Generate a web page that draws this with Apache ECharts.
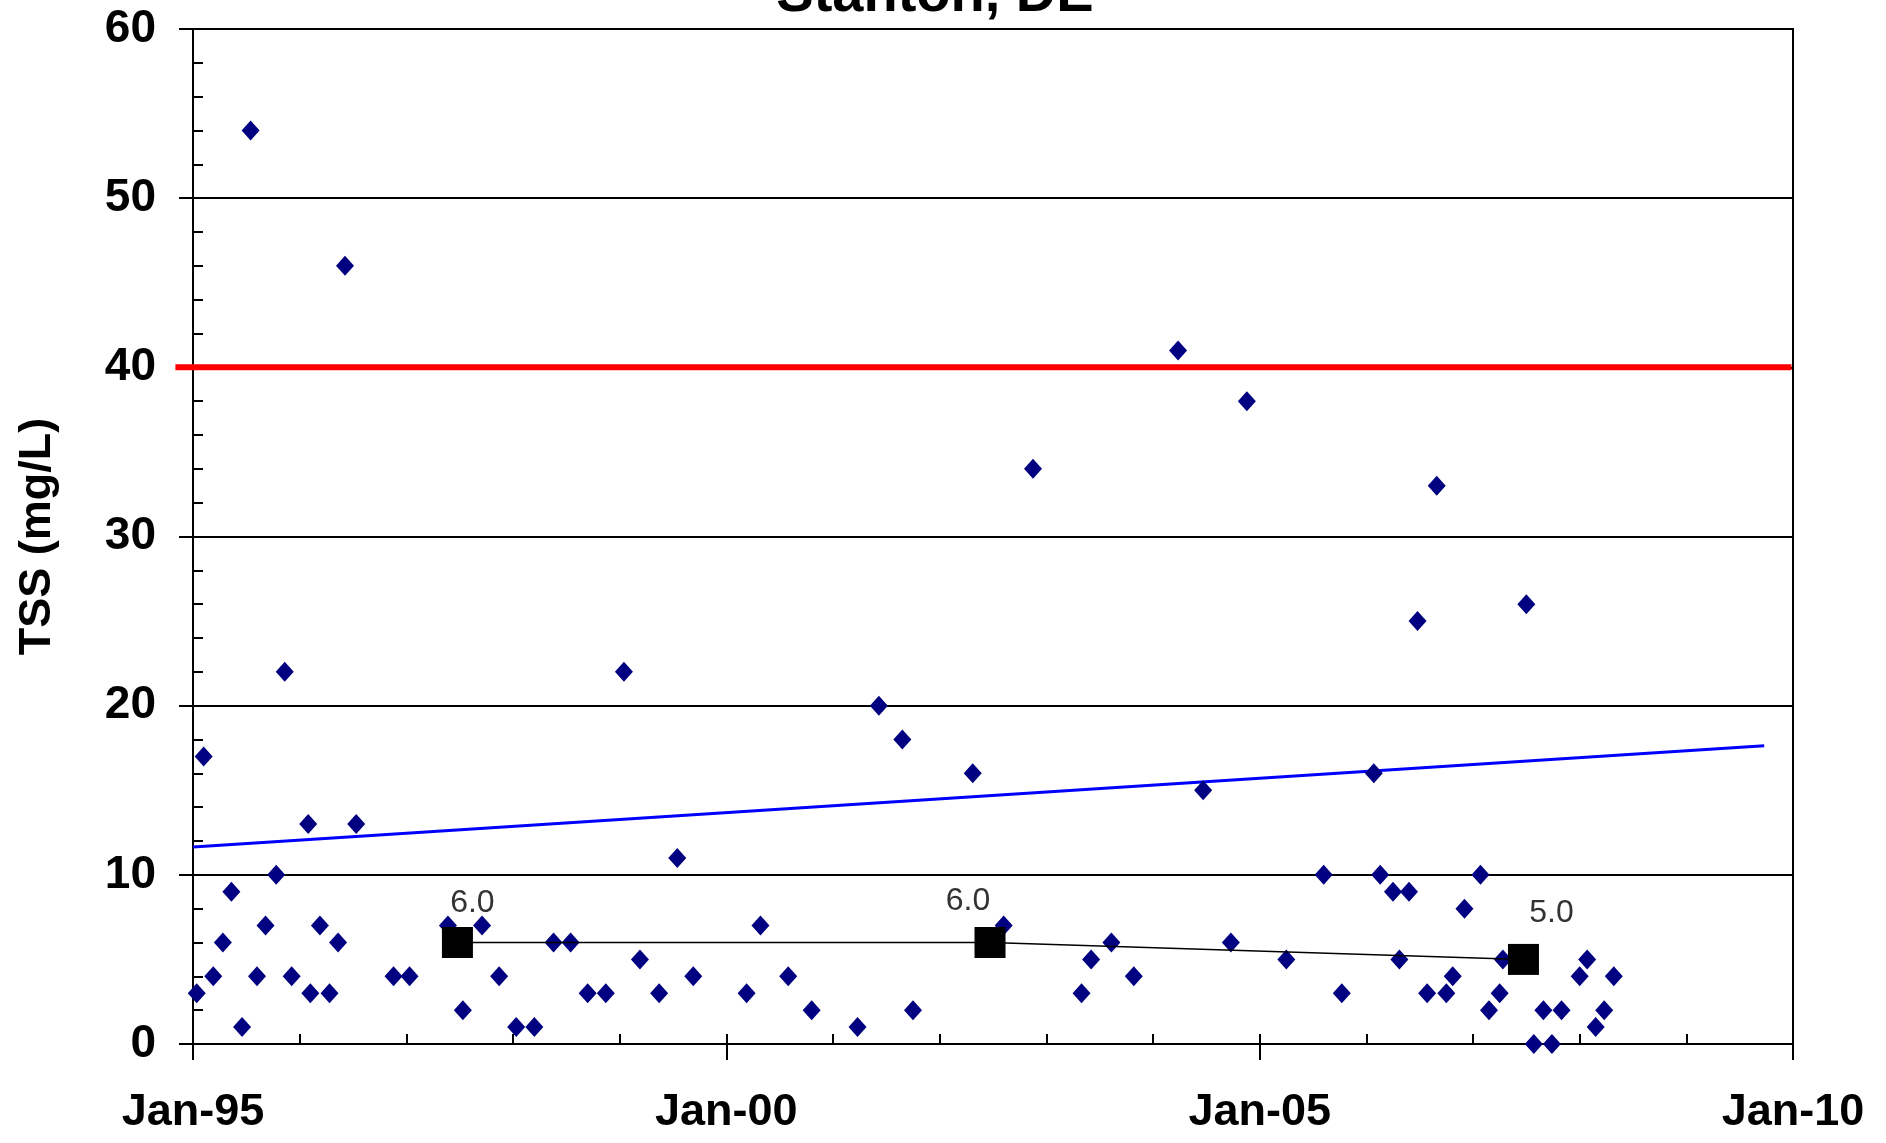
<!DOCTYPE html>
<html>
<head>
<meta charset="utf-8">
<script src="https://cdn.jsdelivr.net/npm/echarts@6/dist/echarts.min.js"></script>
<style>
  html, body { margin: 0; padding: 0; background: #fff; }
  #chart { width: 1886px; height: 1143px; }
</style>
</head>
<body>
<div id="chart"></div>
<script>
// ---- data (x = decimal year) ----
const sampleYears = [
  1995.035, 1995.10, 1995.19, 1995.28, 1995.36, 1995.46, 1995.54, 1995.60, 1995.68, 1995.78,
  1995.86, 1995.925, 1996.08, 1996.10, 1996.19, 1996.28, 1996.36, 1996.425, 1996.53, 1996.88,
  1997.03, 1997.39, 1997.53, 1997.71, 1997.87, 1998.03, 1998.20, 1998.38, 1998.54, 1998.70,
  1998.87, 1999.04, 1999.19, 1999.37, 1999.54, 1999.69, 2000.19, 2000.32, 2000.58, 2000.80,
  2001.23, 2001.43, 2001.65, 2001.75, 2002.31, 2002.60, 2002.875, 2003.33, 2003.42, 2003.61,
  2003.82, 2004.235, 2004.47, 2004.73, 2004.88, 2005.25, 2005.60, 2005.77, 2006.07, 2006.13,
  2006.25, 2006.31, 2006.40, 2006.48, 2006.57, 2006.66, 2006.75, 2006.81, 2006.92, 2007.07,
  2007.15, 2007.25, 2007.28, 2007.50, 2007.57, 2007.66, 2007.74, 2007.83, 2008.00, 2008.07,
  2008.15, 2008.23, 2008.32
];
const tssValues = [
  3, 17, 4, 6, 9, 1, 54, 4, 7, 10,
  22, 4, 13, 3, 7, 3, 6, 46, 13, 4,
  4, 7, 2, 7, 4, 1, 1, 6, 6, 3,
  3, 22, 5, 3, 11, 4, 3, 7, 4, 2,
  1, 20, 18, 2, 16, 7, 34, 3, 5, 6,
  4, 41, 15, 6, 38, 5, 10, 3, 16, 10,
  9, 5, 9, 25, 3, 33, 3, 4, 8, 10,
  2, 3, 5, 26, 0, 2, 0, 2, 4, 5,
  1, 2, 4
];
const medianYears = [1997.479, 2002.472, 2007.473];
const medianValues = [6.0, 6.0, 5.0];
const trendYears = [1995.0, 2009.73];
const trendValues = [11.64, 17.63];
const criterionYears = [1994.835, 2009.986];
const criterionValues = [40, 40];
const xTickYears = [1995, 2000, 2005, 2010];
const xTickLabels = ['Jan-95', 'Jan-00', 'Jan-05', 'Jan-10'];
const titleText = 'Stanton, DE';
const yAxisTitle = 'TSS (mg/L)';

// ---- chart ----
const FONT = 'Liberation Sans';
const zip = (xs, ys) => xs.map((x, i) => [x, ys[i]]);
const medianLabelOffsets = [[15, 0], [-22, -2], [28, -7]];

// pixel layout of the main plot (x axis spans 1995..2010)
const PLOT_LEFT = 193, PLOT_RIGHT = 1793, PLOT_TOP = 29, PLOT_BOTTOM = 1044, W = 1886, H = 1143;
const pxPerYear = (PLOT_RIGHT - PLOT_LEFT) / 15;
// second grid spanning the criterion line's own x extent, using the same year scale
const critLeft = PLOT_LEFT + (criterionYears[0] - 1995) * pxPerYear;
const critRight = PLOT_LEFT + (criterionYears[1] - 1995) * pxPerYear;

const chart = echarts.init(document.getElementById('chart'), null, { renderer: 'canvas' });
const hiddenAxis = { show: false, axisLine: { show: false }, axisTick: { show: false }, axisLabel: { show: false }, splitLine: { show: false } };
const option = {
  backgroundColor: '#ffffff',
  animation: false,
  graphic: [{
    type: 'text',
    x: 935, y: -4,
    style: {
      text: titleText,
      align: 'center', verticalAlign: 'middle',
      fontSize: 56, fontWeight: 'bold', fontFamily: FONT,
      fill: '#000'
    },
    z: 100
  }],
  grid: [{
    left: PLOT_LEFT, right: W - PLOT_RIGHT, top: PLOT_TOP, bottom: H - PLOT_BOTTOM,
    show: true, borderColor: '#000', borderWidth: 2, backgroundColor: 'transparent'
  }, {
    left: critLeft, right: W - critRight, top: PLOT_TOP, bottom: H - PLOT_BOTTOM,
    show: false
  }],
  xAxis: [{
    type: 'value', position: 'bottom', gridIndex: 0,
    min: 1995, max: 2010, interval: 5,
    axisLine: { show: true, lineStyle: { color: '#000', width: 2 } },
    axisTick: { show: true, inside: false, length: 16, lineStyle: { color: '#000', width: 2 } },
    axisLabel: {
      show: true, margin: 46,
      fontSize: 45, fontWeight: 'bold', fontFamily: FONT, color: '#000',
      formatter: v => { const i = xTickYears.indexOf(Math.round(v)); return i >= 0 ? xTickLabels[i] : ''; }
    },
    splitLine: { show: false }
  }, {
    type: 'value', position: 'bottom', gridIndex: 0,
    min: 1995, max: 2010, interval: 1,
    axisLine: { show: false },
    axisTick: { show: true, inside: true, length: 10, lineStyle: { color: '#000', width: 2 } },
    axisLabel: { show: false },
    splitLine: { show: false }
  }, Object.assign({
    type: 'value', gridIndex: 1,
    min: criterionYears[0], max: criterionYears[1]
  }, hiddenAxis)],
  yAxis: [{
    type: 'value', position: 'left', gridIndex: 0,
    min: 0, max: 60, interval: 10,
    name: yAxisTitle, nameLocation: 'middle', nameGap: 133,
    nameTextStyle: { fontSize: 45, fontWeight: 'bold', fontFamily: FONT, color: '#000' },
    axisLine: { show: true, lineStyle: { color: '#000', width: 2 } },
    axisTick: { show: true, inside: false, length: 14, lineStyle: { color: '#000', width: 2 } },
    axisLabel: { show: true, margin: 37, fontSize: 46, fontWeight: 'bold', fontFamily: FONT, color: '#000' },
    splitLine: { show: true, lineStyle: { color: '#000', width: 2 } }
  }, {
    type: 'value', position: 'left', gridIndex: 0,
    min: 0, max: 60, interval: 2,
    axisLine: { show: false },
    axisTick: { show: true, inside: true, length: 10, lineStyle: { color: '#000', width: 2 } },
    axisLabel: { show: false },
    splitLine: { show: false }
  }, Object.assign({
    type: 'value', gridIndex: 1,
    min: 0, max: 60
  }, hiddenAxis)],
  series: [{
    name: 'Trend',
    type: 'line',
    xAxisIndex: 0, yAxisIndex: 0,
    data: zip(trendYears, trendValues),
    showSymbol: false, symbol: 'none',
    lineStyle: { color: '#0000ff', width: 3 },
    z: 2
  }, {
    name: 'TSS',
    type: 'scatter',
    xAxisIndex: 0, yAxisIndex: 0,
    data: zip(sampleYears, tssValues),
    symbol: 'diamond', symbolSize: [18, 20],
    itemStyle: { color: '#000080', opacity: 1 },
    clip: false,
    z: 3
  }, {
    name: 'Median',
    type: 'line',
    xAxisIndex: 0, yAxisIndex: 0,
    data: medianYears.map((x, i) => ({
      value: [x, medianValues[i]],
      label: { offset: medianLabelOffsets[i] }
    })),
    symbol: 'rect', symbolSize: 31,
    showAllSymbol: true,
    itemStyle: { color: '#000', opacity: 1 },
    lineStyle: { color: '#000', width: 1.5 },
    label: {
      show: true, position: 'top', distance: 8,
      fontSize: 32, lineHeight: 32, fontFamily: FONT, color: '#333',
      formatter: p => p.value[1].toFixed(1)
    },
    z: 4
  }, {
    name: 'Criterion',
    type: 'line',
    xAxisIndex: 2, yAxisIndex: 2,
    data: zip(criterionYears, criterionValues),
    symbol: 'none',
    clip: false,
    lineStyle: { color: '#ff0000', width: 6 },
    z: 5
  }]
};
chart.setOption(option);
</script>
</body>
</html>
